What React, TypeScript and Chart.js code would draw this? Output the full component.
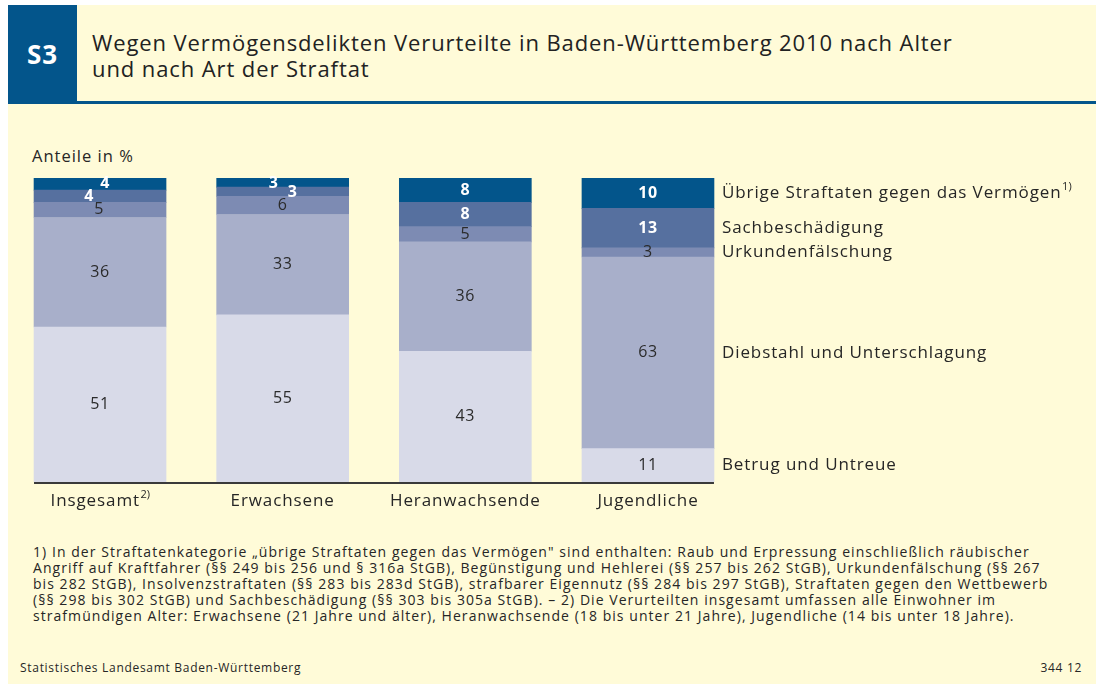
import React, { useEffect, useRef } from "react";
import { Chart, registerables } from "chart.js";

Chart.register(...registerables);

const categories = ["Insgesamt", "Erwachsene", "Heranwachsende", "Jugendliche"];
const categoryNotes = ["2)", "", "", ""];
const seriesNames = [
  "Betrug und Untreue",
  "Diebstahl und Unterschlagung",
  "Urkundenfälschung",
  "Sachbeschädigung",
  "Übrige Straftaten gegen das Vermögen",
];
const seriesNotes = ["", "", "", "", "1)"];
const betrugValues = [51, 55, 43, 11];
const diebstahlValues = [36, 33, 36, 63];
const urkundenValues = [5, 6, 5, 3];
const sachValues = [4, 3, 8, 13];
const uebrigeValues = [4, 3, 8, 10];

const seriesColors = ["#D8DAE8", "#A8AFCA", "#7D8BB3", "#56709F", "#03558B"];
const labelColors = ["#2b2b2b", "#2b2b2b", "#2b2b2b", "#ffffff", "#ffffff"];
const labelBold = [false, false, false, true, true];

// small nudges for labels that don't fit in thin segments: "dataset:index" -> [dx, dy]
const labelNudges: Record<string, [number, number]> = {
  "4:0": [5, -1],
  "3:0": [-11, 0],
  "2:0": [-1, 0],
  "4:1": [-9, 1],
  "3:1": [10, 1],
};

const FONT = "'Open Sans', 'Liberation Sans', sans-serif";
const BG = "#FFFBD8";
const BLUE = "#03558B";
const TEXT = "#262626";

function drawWithSup(
  ctx: CanvasRenderingContext2D,
  main: string,
  sup: string,
  x: number,
  y: number,
  align: "left" | "center",
  size: number,
  spacing: number
) {
  const c: any = ctx;
  c.letterSpacing = `${spacing}px`;
  ctx.font = `${size}px ${FONT}`;
  const mw = ctx.measureText(main).width;
  const supSize = Math.round(size * 0.62);
  c.letterSpacing = "0px";
  ctx.font = `${supSize}px ${FONT}`;
  const sw = sup ? ctx.measureText(sup).width : 0;
  const total = mw + sw;
  const x0 = align === "center" ? x - total / 2 : x;
  ctx.textAlign = "left";
  ctx.textBaseline = "middle";
  c.letterSpacing = `${spacing}px`;
  ctx.font = `${size}px ${FONT}`;
  ctx.fillText(main, x0, y);
  if (sup) {
    c.letterSpacing = "0px";
    ctx.font = `${supSize}px ${FONT}`;
    ctx.fillText(sup, x0 + mw + 0.5, y - size * 0.38);
  }
  c.letterSpacing = "0px";
}

const overlayPlugin = {
  id: "overlay",
  afterDatasetsDraw(chart: any) {
    const ctx: CanvasRenderingContext2D = chart.ctx;
    const c: any = ctx;
    const area = chart.chartArea;
    ctx.save();
    // numbers in segments
    chart.data.datasets.forEach((ds: any, di: number) => {
      const meta = chart.getDatasetMeta(di);
      meta.data.forEach((bar: any, i: number) => {
        const v = ds.data[i];
        const nudge = labelNudges[`${di}:${i}`] || [0, 0];
        const cy = (bar.y + bar.base) / 2 + nudge[1];
        const cx = bar.x + nudge[0];
        ctx.fillStyle = labelColors[di];
        c.letterSpacing = "0.6px";
        ctx.font = `${labelBold[di] ? "bold " : ""}16px ${FONT}`;
        ctx.textAlign = "center";
        ctx.textBaseline = "middle";
        ctx.fillText(String(v), cx, cy);
      });
    });
    c.letterSpacing = "0px";
    // axis line
    const firstMeta = chart.getDatasetMeta(0);
    const b0 = firstMeta.data[0];
    const bl = firstMeta.data[firstMeta.data.length - 1];
    const left = b0.x - b0.width / 2;
    const right = bl.x + bl.width / 2;
    ctx.strokeStyle = "#3a3a3a";
    ctx.lineWidth = 2;
    ctx.beginPath();
    ctx.moveTo(left, area.bottom + 1);
    ctx.lineTo(right, area.bottom + 1);
    ctx.stroke();
    // category labels
    ctx.fillStyle = TEXT;
    firstMeta.data.forEach((bar: any, i: number) => {
      drawWithSup(ctx, categories[i], categoryNotes[i], bar.x, area.bottom + 19, "center", 17, 0.9);
    });
    // series labels beside last bar
    chart.data.datasets.forEach((ds: any, di: number) => {
      const meta = chart.getDatasetMeta(di);
      const bar = meta.data[meta.data.length - 1];
      const cy = (bar.y + bar.base) / 2;
      ctx.fillStyle = TEXT;
      drawWithSup(ctx, seriesNames[di], seriesNotes[di], right + 8, cy, "left", 17, 0.9);
    });
    ctx.restore();
  },
};

function BarChart() {
  const ref = useRef<HTMLCanvasElement | null>(null);
  useEffect(() => {
    if (!ref.current) return;
    const values = [betrugValues, diebstahlValues, urkundenValues, sachValues, uebrigeValues];
    const chart = new Chart(ref.current, {
      type: "bar",
      data: {
        labels: categories,
        datasets: values.map((d, i) => ({
          label: seriesNames[i],
          data: d,
          backgroundColor: seriesColors[i],
          borderWidth: 0,
          barThickness: 132,
        })),
      },
      options: {
        animation: false,
        responsive: false,
        devicePixelRatio: 1,
        layout: { padding: { left: 8.7, right: 356.7, top: 73, bottom: 48 } },
        plugins: { legend: { display: false }, tooltip: { enabled: false } },
        scales: {
          x: { stacked: true, display: false },
          y: { stacked: true, display: false, min: 0, max: 100 },
        },
      },
      plugins: [overlayPlugin],
    });
    return () => chart.destroy();
  }, []);
  return (
    <canvas
      ref={ref}
      width={1096}
      height={425}
      style={{ position: "absolute", left: 0, top: 105, width: 1096, height: 425 }}
    />
  );
}

const footLines = [
  "1) In der Straftatenkategorie „übrige Straftaten gegen das Vermögen\" sind enthalten: Raub und Erpressung einschließlich räubischer",
  "Angriff auf Kraftfahrer (§§ 249 bis 256 und § 316a StGB), Begünstigung und Hehlerei (§§ 257 bis 262 StGB), Urkundenfälschung (§§ 267",
  "bis 282 StGB), Insolvenzstraftaten (§§ 283 bis 283d StGB), strafbarer Eigennutz (§§ 284 bis 297 StGB), Straftaten gegen den Wettbewerb",
  "(§§ 298 bis 302 StGB) und Sachbeschädigung (§§ 303 bis 305a StGB). – 2) Die Verurteilten insgesamt umfassen alle Einwohner im",
  "strafmündigen Alter: Erwachsene (21 Jahre und älter), Heranwachsende (18 bis unter 21 Jahre), Jugendliche (14 bis unter 18 Jahre).",
];

export default function App() {
  return (
    <div
      style={{
        position: "absolute",
        left: 0,
        top: 0,
        width: 1096,
        height: 684,
        background: "#ffffff",
        overflow: "hidden",
        fontFamily: FONT,
        color: TEXT,
      }}
    >
      <div style={{ position: "absolute", left: 8, top: 5, width: 1088, height: 679, background: BG }} />
      <div style={{ position: "absolute", left: 8, top: 5, width: 69, height: 99, background: BLUE }} />
      <div
        style={{
          position: "absolute",
          left: 8,
          top: 38,
          width: 69,
          textAlign: "center",
          color: "#fff",
          fontWeight: "bold",
          fontSize: 26,
          lineHeight: "32px",
          letterSpacing: 1,
        }}
      >
        S3
      </div>
      <div style={{ position: "absolute", left: 77, top: 101, width: 1019, height: 3, background: BLUE }} />
      <div
        style={{
          position: "absolute",
          left: 92,
          top: 29,
          fontSize: 22,
          lineHeight: "26px",
          letterSpacing: 0.9,
          whiteSpace: "nowrap",
          color: "#222",
        }}
      >
        Wegen Vermögensdelikten Verurteilte in Baden-Württemberg 2010 nach Alter
        <br />
        und nach Art der Straftat
      </div>
      <div
        style={{
          position: "absolute",
          left: 32,
          top: 145,
          fontSize: 16.5,
          lineHeight: "22px",
          letterSpacing: 1,
          whiteSpace: "nowrap",
        }}
      >
        Anteile in %
      </div>
      <BarChart />
      <div
        style={{
          position: "absolute",
          left: 33,
          top: 544,
          fontSize: 14,
          lineHeight: "16px",
          letterSpacing: 1.05,
          whiteSpace: "nowrap",
        }}
      >
        {footLines.map((l, i) => (
          <div key={i}>{l}</div>
        ))}
      </div>
      <div
        style={{
          position: "absolute",
          left: 20,
          top: 661,
          fontSize: 12,
          lineHeight: "14px",
          letterSpacing: 0.7,
          whiteSpace: "nowrap",
        }}
      >
        Statistisches Landesamt Baden-Württemberg
      </div>
      <div
        style={{
          position: "absolute",
          right: 14,
          top: 661,
          fontSize: 12,
          lineHeight: "14px",
          letterSpacing: 0.7,
          whiteSpace: "nowrap",
        }}
      >
        344 12
      </div>
    </div>
  );
}
